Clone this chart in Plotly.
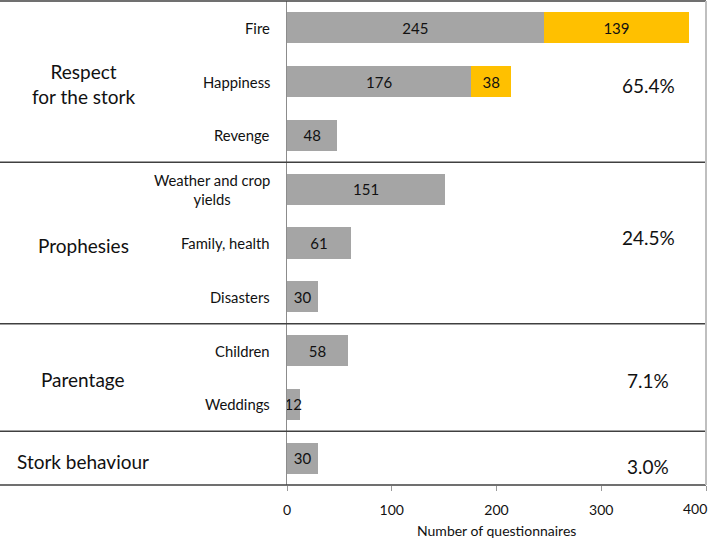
import plotly.graph_objects as go

# ---------------- data ----------------
categories = ["Fire", "Happiness", "Revenge", "Weather and crop<br>yields",
              "Family, health", "Disasters", "Children", "Weddings", ""]
grey_values = [245, 176, 48, 151, 61, 30, 58, 12, 30]
orange_values = [139, 38, None, None, None, None, None, None, None]
group_names = ["Respect<br>for the stork", "Prophesies", "Parentage", "Stork behaviour"]
group_sizes = [3, 3, 2, 1]
group_pcts = ["65.4%", "24.5%", "7.1%", "3.0%"]
x_ticks = [0, 100, 200, 300, 400]
x_title = "Number of questionnaires"

# ---------------- figure ----------------
FONT = "Lato, Carlito, 'Noto Sans', sans-serif"
W, H = 708, 540
ML, MR, MT, MB = 287, 2, 1, 55
PW = W - ML - MR
PH = H - MT - MB
pct_yshift = [-4, 6, -3, -8]   # small vertical nudges of the percentage labels (px)

idx = list(range(len(categories)))

fig = go.Figure()
fig.add_trace(go.Bar(
    y=idx, x=grey_values, orientation="h",
    marker=dict(color="#A5A5A5", line=dict(width=0)),
    width=0.58,
    text=[str(v) for v in grey_values],
    textposition="inside", insidetextanchor="middle", constraintext="none",
    textfont=dict(family=FONT, size=15, color="#111111"),
    hoverinfo="skip",
))
fig.add_trace(go.Bar(
    y=idx, x=orange_values, orientation="h",
    marker=dict(color="#FFC000", line=dict(width=0)),
    width=0.58,
    text=["" if v is None else str(v) for v in orange_values],
    textposition="inside", insidetextanchor="middle", constraintext="none",
    textfont=dict(family=FONT, size=15, color="#111111"),
    hoverinfo="skip",
))

annotations = []
lab_x = -15 / PW
for i, c in enumerate(categories):
    if c:
        annotations.append(dict(
            x=lab_x, xref="paper", y=i, yref="y", text=c, showarrow=False,
            xanchor="right", yanchor="middle", align="center",
            font=dict(family=FONT, size=14.8, color="#111111")))

shapes = []
grp_x = (83 - ML) / PW
pct_x = (648 - ML) / PW
left_edge = -ML / PW
start = 0
for k, (g, n, p) in enumerate(zip(group_names, group_sizes, group_pcts)):
    center = start + (n - 1) / 2
    annotations.append(dict(
        x=grp_x, xref="paper", y=center, yref="y", text=g, showarrow=False,
        xanchor="center", yanchor="middle", align="center",
        yshift=-3 if n == 1 else -2,
        font=dict(family=FONT, size=19, color="#111111")))
    annotations.append(dict(
        x=pct_x, xref="paper", y=center, yref="y", text=p, showarrow=False,
        xanchor="center", yanchor="middle", yshift=pct_yshift[k],
        font=dict(family=FONT, size=19, color="#111111")))
    start += n
    if start < len(categories):
        shapes.append(dict(type="line", xref="paper", yref="y",
                           x0=left_edge, x1=1, y0=start - 0.5, y1=start - 0.5,
                           line=dict(color="#404040", width=1.5)))

for yy in (0, 1):
    shapes.append(dict(type="line", xref="paper", yref="paper",
                       x0=left_edge, x1=1, y0=yy, y1=yy,
                       line=dict(color="#404040", width=1.5)))
shapes.append(dict(type="line", xref="paper", yref="paper",
                   x0=1, x1=1, y0=0, y1=1,
                   line=dict(color="#BFBFBF", width=2)))

# last tick label kept inside the page (as in the reference)
tick_text = [str(t) for t in x_ticks[:-1]] + [""]
annotations.append(dict(
    x=x_ticks[-1], xref="x", y=0, yref="paper", yshift=-23, xshift=3,
    text=str(x_ticks[-1]), showarrow=False, xanchor="right", yanchor="middle",
    font=dict(family=FONT, size=14, color="#111111")))

annotations.append(dict(
    x=0.5, xref="paper", y=-(45 / PH), yref="paper",
    text=x_title, showarrow=False, xanchor="center", yanchor="middle",
    font=dict(family=FONT, size=14, color="#111111")))

fig.update_layout(
    width=W, height=H,
    margin=dict(l=ML, r=MR, t=MT, b=MB),
    barmode="stack",
    showlegend=False,
    plot_bgcolor="white", paper_bgcolor="white",
    font=dict(family=FONT, color="#111111"),
    xaxis=dict(range=[0, 400], tickvals=x_ticks, ticktext=tick_text,
               ticks="outside", ticklen=5, ticklabelstandoff=7,
               tickcolor="#9A9A9A", tickwidth=1, showgrid=False, zeroline=False,
               showline=False, tickfont=dict(family=FONT, size=14, color="#111111"),
               fixedrange=True),
    yaxis=dict(range=[len(categories) - 0.5, -0.5], showticklabels=False,
               showgrid=False, zeroline=False, showline=True,
               linecolor="#8C8C8C", linewidth=1, ticks="", fixedrange=True),
    shapes=shapes,
    annotations=annotations,
)

fig.write_html("out.html", config={"displayModeBar": False},
               post_script="document.body.style.margin='0';document.body.style.overflow='hidden';")
